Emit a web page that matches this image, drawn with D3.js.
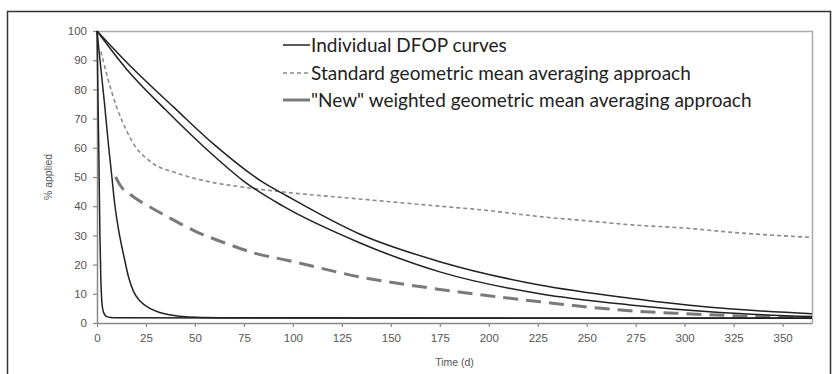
<!DOCTYPE html>
<html><head><meta charset="utf-8">
<script src="https://cdn.jsdelivr.net/npm/d3@7"></script>
<style>body{margin:0;background:#fff}svg{display:block}</style>
</head><body>
<svg id="c" width="838" height="374"></svg>
<script>
// ---- data ----
const xTicks = [0,25,50,75,100,125,150,175,200,225,250,275,300,325,350];
const yTicks = [0,10,20,30,40,50,60,70,80,90,100];

// Individual DFOP curves [time (d), % applied]
const dfopVeryFast = [[0,100],[1,55],[1.5,30],[2,14],[2.5,7],[3,4.5],[4,2.8],[5,2.2],[7,1.9],[10,1.8],[100,1.7],[365,1.6]];
const dfopFast = [[0,100],[2,87],[4,74],[6,60],[7.6,50],[9,41],[11,32],[14,22],[16,16],[18.5,11],[22,7.5],[27,5],[32,3.6],[37,2.8],[45,2.1],[55,1.9],[70,1.8],[365,1.7]];
const dfopSlowA = [[0,100],[15,87],[35,73],[60,57],[75,48.5],[95,40],[134,27.5],[175,17.5],[226,10],[272,6.2],[318,3.6],[365,2.2]];
const dfopSlowB = [[0,100],[17,88],[39,74],[60,61],[84,48.5],[97,43.5],[134,30.5],[175,21],[226,13],[272,8.5],[318,5.1],[365,3.2]];
// Standard geometric mean averaging approach
const standardGM = [[2,93],[5,85],[10,74],[15,66],[20,60],[25,56.5],[30,54],[40,51.5],[50,49.5],[60,48],[75,46.5],[100,44.5],[125,43],[150,41.5],[175,40],[200,38.5],[225,36.5],[250,35],[275,33.5],[300,32.5],[325,31],[365,29.3]];
// "New" weighted geometric mean averaging approach
const weightedGM = [[9.5,50],[12,47],[17,44],[25,40.5],[33,37.5],[50,31.5],[67,27],[80,24],[97,21.5],[134,15.8],[175,11.5],[200,9.3],[226,7.3],[250,5.5],[272,4.2],[300,3.2],[325,2.5],[365,1.8]];

const legendLabels = ["Individual DFOP curves","Standard geometric mean averaging approach","\"New\" weighted geometric mean averaging approach"];

// ---- drawing ----
const svg = d3.select("#c");
const M = {left:97, right:812, top:31, bottom:323};
const x = d3.scaleLinear().domain([0,365]).range([M.left, M.right]);
const y = d3.scaleLinear().domain([0,100]).range([M.bottom, M.top]);

// outer frame
svg.append("rect").attr("x",7.5).attr("y",11.5).attr("width",823).attr("height",380)
  .attr("fill","none").attr("stroke","#333").attr("stroke-width",1.5);

// plot area border (top & right)
svg.append("path").attr("d",`M${M.left},${M.top+0.5}H${M.right+0.5}V${M.bottom}`)
  .attr("fill","none").attr("stroke","#aaa").attr("stroke-width",1.5);

const tickFont = "'Liberation Sans', Arial, sans-serif";
// y axis
const ya = svg.append("g").attr("transform",`translate(${M.left},0)`)
  .call(d3.axisLeft(y).tickValues(yTicks).tickSize(4).tickPadding(6).tickSizeOuter(0));
// x axis
const xa = svg.append("g").attr("transform",`translate(0,${M.bottom})`)
  .call(d3.axisBottom(x).tickValues(xTicks).tickSize(4).tickPadding(7).tickSizeOuter(0));
[ya,xa].forEach(a=>{
  a.select(".domain").attr("stroke","#888").attr("stroke-width",1.5);
  a.selectAll(".tick line").attr("stroke","#888").attr("stroke-width",1.2);
  a.selectAll("text").attr("fill","#555").style("font-family",tickFont).style("font-size","11.5px");
});

svg.append("text").attr("transform",`translate(52,${(M.top+M.bottom)/2}) rotate(-90)`)
  .attr("text-anchor","middle").attr("fill","#555").style("font-family",tickFont).style("font-size","10.5px").text("% applied");
svg.append("text").attr("x",(M.left+M.right)/2).attr("y",366).attr("text-anchor","middle")
  .attr("fill","#555").style("font-family",tickFont).style("font-size","10.5px").text("Time (d)");

const line = d3.line().x(d=>x(d[0])).y(d=>y(d[1])).curve(d3.curveMonotoneX);
const g = svg.append("g");
g.append("path").datum(standardGM).attr("d",line).attr("fill","none").attr("stroke","#8a8a8a").attr("stroke-width",1.6).attr("stroke-dasharray","4,3");
g.append("path").datum(weightedGM).attr("d",line).attr("fill","none").attr("stroke","#7a7a7a").attr("stroke-width",3).attr("stroke-dasharray","15,8");
[dfopVeryFast,dfopFast,dfopSlowA,dfopSlowB].forEach(s=>{
  g.append("path").datum(s).attr("d",line).attr("fill","none").attr("stroke","#222").attr("stroke-width",1.5);
});

// legend
const styles = [
  {stroke:"#222",w:1.5,dash:null},
  {stroke:"#8a8a8a",w:1.6,dash:"4,3"},
  {stroke:"#7a7a7a",w:3,dash:null}
];
const legY = [45,73,100];
const lg = svg.append("g");
legendLabels.forEach((t,i)=>{
  lg.append("line").attr("x1",283).attr("x2",310).attr("y1",legY[i]).attr("y2",legY[i])
    .attr("stroke",styles[i].stroke).attr("stroke-width",styles[i].w).attr("stroke-dasharray",styles[i].dash);
  lg.append("text").attr("x",311).attr("y",legY[i]).attr("dy","0.35em")
    .attr("fill","#222").style("font-family","Lato, 'Open Sans', sans-serif").style("font-size","19px").text(t);
});
</script>
</body></html>
